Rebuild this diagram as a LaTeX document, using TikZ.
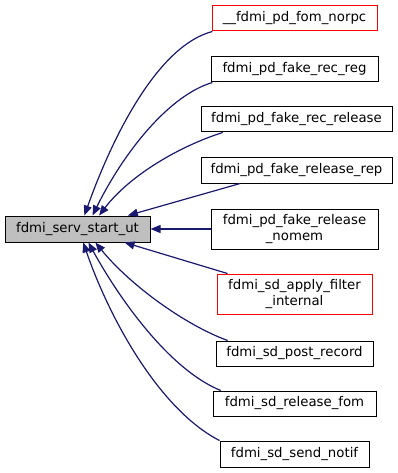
\documentclass[tikz,border=0pt]{standalone}
\usepackage{fontspec}
\setmainfont{DejaVu Sans}
\usetikzlibrary{arrows.meta}
\definecolor{edgeblue}{RGB}{25,25,112}
\definecolor{mainfill}{RGB}{191,191,191}
\definecolor{linkred}{RGB}{255,0,0}
\tikzset{
  fn/.style={draw=black, line width=1pt, fill=white, inner sep=0pt,
    align=center, font=\fontsize{13.3}{15.5}\selectfont},
  fnred/.style={fn, draw=linkred},
  fnmain/.style={fn, fill=mainfill},
  edge/.style={draw=edgeblue, line width=1.2pt,
    -{Triangle[length=10pt,width=8pt]}},
}
\begin{document}
\begin{tikzpicture}[x=1pt,y=-1pt]
\useasboundingbox (0,0) rectangle (397,473);

% callee
\node[fnmain, minimum width=145pt, minimum height=26pt] (main) at (77.5,229) {fdmi\_serv\_start\_ut};

% callers
\node[fnred, minimum width=165pt, minimum height=25pt] (b1) at (294.5,18.5) {\_\_fdmi\_pd\_fom\_norpc};
\node[fn, minimum width=167pt, minimum height=25pt] (b2) at (294.5,69.5) {fdmi\_pd\_fake\_rec\_reg};
\node[fn, minimum width=191pt, minimum height=25pt] (b3) at (296.5,119.5) {fdmi\_pd\_fake\_rec\_release};
\node[fn, minimum width=191pt, minimum height=25pt] (b4) at (296.5,170.5) {fdmi\_pd\_fake\_release\_rep};
\node[fn, minimum width=167pt, minimum height=40pt] (b5) at (294.5,229) {fdmi\_pd\_fake\_release\\\_nomem};
\node[fnred, minimum width=155pt, minimum height=40pt] (b6) at (294.5,294) {fdmi\_sd\_apply\_filter\\\_internal};
\node[fn, minimum width=157pt, minimum height=25pt] (b7) at (294.5,353.5) {fdmi\_sd\_post\_record};
\node[fn, minimum width=163pt, minimum height=25pt] (b8) at (294.5,403.5) {fdmi\_sd\_release\_fom};
\node[fn, minimum width=149pt, minimum height=26pt] (b9) at (294.5,454) {fdmi\_sd\_send\_notif};

% call edges
\draw[edge] (b1.189) .. controls (160,45) and (115,130) .. (main.63);
\draw[edge] (b2.189.5) .. controls (170,95) and (125,150) .. (main.42);
\draw[edge] (b3.190) .. controls (180,146) and (130,175) .. (main.32);
\draw[edge] (b4.193) -- (main.15);
\draw[edge] (b5.west) -- (main.east);
\draw[edge] (b6.163) -- (main.-16);
\draw[edge] (b7.169) .. controls (185,325) and (130,285) .. (main.-37);
\draw[edge] (b8.170) .. controls (170,370) and (120,300) .. (main.-51);
\draw[edge] (b9.north west) .. controls (160,410) and (110,320) .. (main.-67);
\end{tikzpicture}
\end{document}
